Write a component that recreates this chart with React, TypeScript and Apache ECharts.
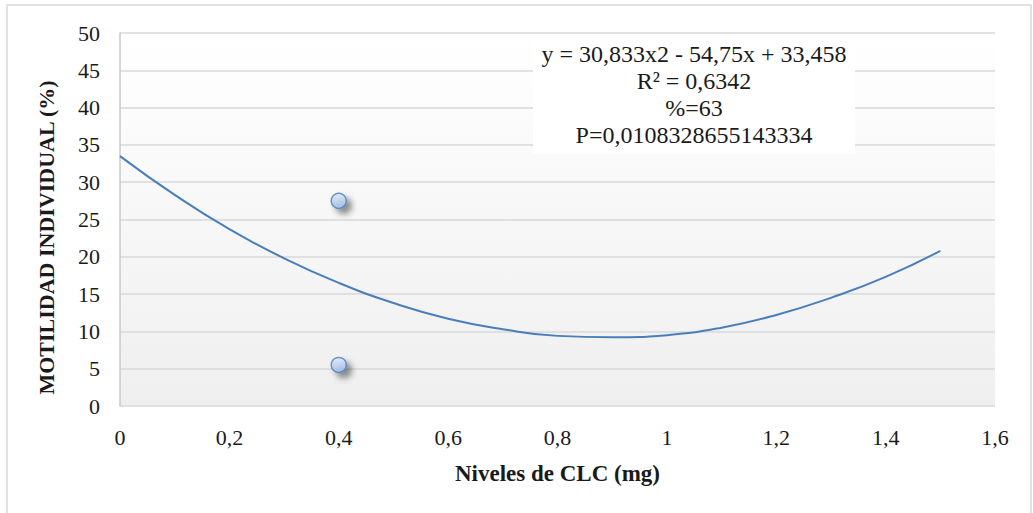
import React, { useEffect, useRef } from "react";
import * as echarts from "echarts";

// Observed points (Niveles de CLC, Motilidad individual)
const pointX = [0.4, 0.4];
const pointY = [27.5, 5.5];

// Trend curve
const trendX = [0, 0.1, 0.2, 0.3, 0.4, 0.5, 0.6, 0.7, 0.8, 0.9, 1.0, 1.1, 1.2, 1.3, 1.4, 1.5];
const trendY = [33.5, 28.3, 23.7, 19.8, 16.5, 13.8, 11.7, 10.3, 9.4, 9.2, 9.5, 10.5, 12.2, 14.5, 17.3, 20.8];

const annotationLines = [
  "y = 30,833x2 - 54,75x + 33,458",
  "R² = 0,6342",
  "%=63",
  "P=0,0108328655143334",
];

const xTitle = "Niveles de CLC (mg)";
const yTitle = "MOTILIDAD INDIVIDUAL (%)";

const FONT = "Liberation Serif";

export default function App() {
  const ref = useRef<HTMLDivElement>(null);

  useEffect(() => {
    document.body.style.margin = "0";
    const chart = echarts.init(ref.current!, null, { renderer: "svg" });
    const points = pointX.map((x, i) => [x, pointY[i]]);
    const trend = trendX.map((x, i) => [x, trendY[i]]);
    chart.setOption({
      animation: false,
      backgroundColor: "#ffffff",
      textStyle: { fontFamily: FONT },
      grid: {
        left: 120,
        right: 38,
        top: 33,
        bottom: 107,
        show: true,
        borderWidth: 0,
        backgroundColor: new echarts.graphic.LinearGradient(0, 0, 0, 1, [
          { offset: 0, color: "#ffffff" },
          { offset: 1, color: "#efefef" },
        ]),
      },
      xAxis: {
        type: "value",
        min: 0,
        max: 1.6,
        interval: 0.2,
        axisLine: { show: false },
        axisTick: { show: false },
        splitLine: { show: false },
        axisLabel: {
          margin: 20,
          fontFamily: FONT,
          fontWeight: "normal",
          fontSize: 22,
          color: "#1a1a1a",
          formatter: (v: number) => String(Math.round(v * 10) / 10).replace(".", ","),
        },
        name: xTitle,
        nameLocation: "middle",
        nameGap: 56,
        nameTextStyle: { fontFamily: FONT, fontSize: 23, fontWeight: "bold", color: "#1a1a1a" },
      },
      yAxis: {
        type: "value",
        min: 0,
        max: 50,
        interval: 5,
        axisLine: { show: true, lineStyle: { color: "#c8c8c8", width: 1.5 } },
        axisTick: { show: false },
        splitLine: { show: true, lineStyle: { color: "#d9d9d9", width: 1.5 } },
        axisLabel: { margin: 20, fontFamily: FONT, fontWeight: "normal", fontSize: 22, color: "#1a1a1a" },
        name: yTitle,
        nameLocation: "middle",
        nameGap: 63,
        nameTextStyle: {
          fontFamily: FONT,
          fontSize: 22,
          fontWeight: "bold",
          color: "#1a1a1a",
          padding: [0, 0, 0, -36],
        },
      },
      series: [
        {
          type: "line",
          data: trend,
          smooth: true,
          showSymbol: false,
          symbol: "none",
          lineStyle: { color: "#4a7ebb", width: 2 },
          z: 2,
        },
        {
          type: "scatter",
          data: points,
          symbol: "circle",
          symbolSize: 15,
          itemStyle: {
            color: new echarts.graphic.LinearGradient(0, 0, 0, 1, [
              { offset: 0, color: "#dbe8fa" },
              { offset: 1, color: "#9ebde8" },
            ]),
            borderColor: "#4a7ebb",
            borderWidth: 1.5,
            shadowColor: "rgba(0,0,0,0.55)",
            shadowBlur: 6,
            shadowOffsetX: 5,
            shadowOffsetY: 5,
          },
          z: 3,
        },
      ],
      graphic: [
        {
          type: "rect",
          shape: { x: 7, y: 5, width: 1024, height: 520 },
          style: { fill: "none", stroke: "#d9d9d9", lineWidth: 1.5 },
          silent: true,
          z: 0,
        },
        {
          type: "rect",
          shape: { x: 533, y: 37, width: 322, height: 117 },
          style: { fill: "#ffffff" },
          z: 10,
        },
        ...annotationLines.map((t, i) => ({
          type: "text",
          x: 694,
          y: 54 + i * 27,
          z: 11,
          style: {
            text: t,
            fontFamily: FONT,
            fontWeight: "normal",
            fontSize: 24,
            fill: "#1a1a1a",
            textAlign: "center",
            textVerticalAlign: "middle",
          },
        })),
      ],
    });
    return () => chart.dispose();
  }, []);

  return (
    <div
      ref={ref}
      style={{ position: "fixed", left: 0, top: 0, width: 1033, height: 513 }}
    />
  );
}
